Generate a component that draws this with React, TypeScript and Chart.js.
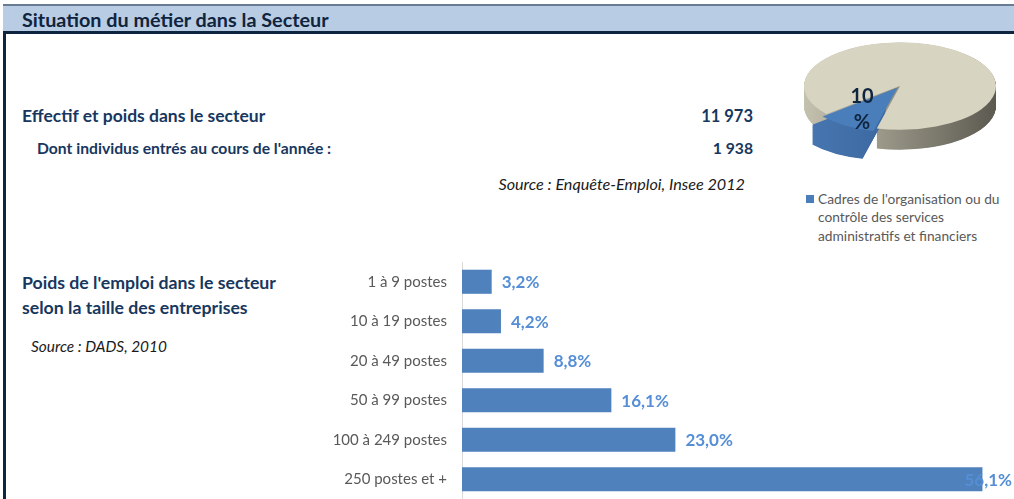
import React, { useEffect, useRef } from "react";
import { Chart, registerables } from "chart.js";

Chart.register(...registerables);

// ---- Data ----
const TITLE = "Situation du métier dans la Secteur";
const EFFECTIF_LABEL = "Effectif et poids dans le secteur";
const EFFECTIF_VALUE = "11 973";
const ENTRANTS_LABEL = "Dont individus entrés au cours de l'année :";
const ENTRANTS_VALUE = "1 938";
const SOURCE_EFFECTIF = "Source : Enquête-Emploi, Insee 2012";

const PIE_LABELS = [
  "Cadres de l'organisation ou du contrôle des services administratifs et financiers",
  "Autres métiers du secteur",
];
const PIE_VALUES = [10, 90];

const BAR_TITLE_LINES = ["Poids de l'emploi dans le secteur", "selon la taille des entreprises"];
const SOURCE_BAR = "Source : DADS, 2010";
const SIZE_CATEGORIES = [
  "1 à 9 postes",
  "10 à 19 postes",
  "20 à 49 postes",
  "50 à 99 postes",
  "100 à 249 postes",
  "250 postes et +",
];
const SIZE_SHARES = [3.2, 4.2, 8.8, 16.1, 23.0, 56.1];

// ---- Styles ----
const FONT = 'Lato, "Open Sans", sans-serif';
const NAVY = "#17375E";
const PIE_TILT = 0.455;
const PIE_DEPTH = 20;

const fmtPct = (v: number) => v.toFixed(1).replace(".", ",") + "%";

const pie3d = {
  id: "pie3d",
  beforeDatasetsDraw(chart: any) {
    const ctx = chart.ctx as CanvasRenderingContext2D;
    const meta = chart.getDatasetMeta(0);
    const first = meta.data[0];
    const cy = first.y;
    ctx.save();
    ctx.translate(0, cy);
    ctx.scale(1, PIE_TILT);
    ctx.translate(0, -cy);
    const depth = PIE_DEPTH / PIE_TILT;
    const sideColors = [
      ["#4A79B4", "#2E588C"],
      ["#C4C1AF", "#5C5A50"],
    ];
    const order = meta.data.map((_: any, i: number) => i).reverse();
    for (const i of order) {
      const arc = meta.data[i];
      const { x, y, startAngle, endAngle, outerRadius, circumference } = arc.getProps([
        "x",
        "y",
        "startAngle",
        "endAngle",
        "outerRadius",
        "circumference",
      ]);
      const off = arc.options.offset || 0;
      const half = (startAngle + endAngle) / 2;
      const fix = 1 - Math.sin(Math.min(Math.PI, circumference || 0));
      const total = off + off * fix;
      const ox = x + Math.cos(half) * total;
      const oy = y + Math.sin(half) * total;
      const g = ctx.createLinearGradient(ox - outerRadius, 0, ox + outerRadius, 0);
      g.addColorStop(0, sideColors[i][0]);
      g.addColorStop(1, sideColors[i][1]);
      ctx.fillStyle = g;
      for (let d = depth; d > 0; d -= 1) {
        ctx.beginPath();
        ctx.moveTo(ox, oy + d);
        ctx.arc(ox, oy + d, outerRadius, startAngle, endAngle);
        ctx.closePath();
        ctx.fill();
      }
    }
  },
  afterDatasetsDraw(chart: any) {
    chart.ctx.restore();
  },
};

const barLabels = {
  id: "barLabels",
  afterDatasetsDraw(chart: any) {
    const ctx = chart.ctx as CanvasRenderingContext2D;
    const meta = chart.getDatasetMeta(0);
    ctx.save();
    ctx.font = `bold 17px ${FONT}`;
    ctx.fillStyle = "#558ED5";
    ctx.textBaseline = "middle";
    ctx.textAlign = "left";
    meta.data.forEach((bar: any, i: number) => {
      const txt = fmtPct(SIZE_SHARES[i]);
      const w = ctx.measureText(txt).width;
      let x = bar.x + 10;
      if (x + w > chart.width - 2) x = chart.width - 2 - w;
      ctx.fillText(txt, x, bar.y + 1);
    });
    ctx.restore();
  },
};

const abs = (left: number, top: number, extra: React.CSSProperties = {}): React.CSSProperties => ({
  position: "absolute",
  left,
  top,
  whiteSpace: "nowrap",
  fontFamily: FONT,
  ...extra,
});

export default function App() {
  const pieRef = useRef<HTMLCanvasElement>(null);
  const barRef = useRef<HTMLCanvasElement>(null);

  useEffect(() => {
    const pie = new Chart(pieRef.current!, {
      type: "pie",
      data: {
        labels: PIE_LABELS,
        datasets: [
          {
            data: PIE_VALUES,
            backgroundColor: ["#4A7EBB", "#D7D4C2"],
            borderWidth: 0,
            offset: [19, 0],
            clip: false,
          } as any,
        ],
      },
      options: {
        responsive: false,
        animation: false,
        events: [],
        rotation: 194,
        radius: 96,
        layout: { padding: { bottom: 36 } },
        plugins: { legend: { display: false }, tooltip: { enabled: false } },
      } as any,
      plugins: [pie3d],
    });

    const bar = new Chart(barRef.current!, {
      type: "bar",
      data: {
        labels: SIZE_CATEGORIES,
        datasets: [
          {
            data: SIZE_SHARES,
            backgroundColor: "#4F81BD",
            borderWidth: 0,
            categoryPercentage: 1,
            barPercentage: 0.61,
          },
        ],
      },
      options: {
        indexAxis: "y",
        responsive: false,
        animation: false,
        events: [],
        layout: { padding: 0, autoPadding: false },
        scales: {
          x: { display: false, min: 0, max: 59.5 },
          y: {
            grid: { display: false, drawTicks: false },
            border: { display: true, color: "#D9D9D9", width: 1 },
            ticks: { color: "#595959", font: { family: FONT, size: 15 }, padding: 15 },
            afterFit: (s: any) => {
              s.width = 162;
              s.paddingTop = 0;
              s.paddingBottom = 0;
            },
          },
        },
        plugins: { legend: { display: false }, tooltip: { enabled: false } },
      } as any,
      plugins: [barLabels],
    });

    return () => {
      pie.destroy();
      bar.destroy();
    };
  }, []);

  return (
    <div
      style={{
        position: "absolute",
        left: 0,
        top: 0,
        width: 1014,
        height: 499,
        overflow: "hidden",
        background: "#FFFFFF",
        fontFamily: FONT,
      }}
    >
      {/* frame */}
      <div style={{ position: "absolute", left: 3, top: 4, width: 3, height: 495, background: "#0F243E" }} />
      <div
        style={{
          position: "absolute",
          left: 3,
          top: 4,
          width: 1011,
          height: 25,
          background: "#B8CCE4",
          borderTop: "2px solid #6A7C94",
          borderBottom: "3px solid #0F243E",
        }}
      />
      <div style={abs(22, 7, { fontSize: 19.8, fontWeight: 700, lineHeight: "24px", color: "#0F243E" })}>{TITLE}</div>

      {/* effectif block */}
      <div style={abs(22, 104, { fontSize: 17.5, fontWeight: 700, lineHeight: "24px", color: NAVY })}>{EFFECTIF_LABEL}</div>
      <div style={abs(600, 104, { width: 153, textAlign: "right", fontSize: 16.5, fontWeight: 700, lineHeight: "24px", color: NAVY })}>
        {EFFECTIF_VALUE}
      </div>
      <div style={abs(37, 136, { fontSize: 15.7, fontWeight: 700, lineHeight: "24px", color: NAVY })}>{ENTRANTS_LABEL}</div>
      <div style={abs(600, 136, { width: 153, textAlign: "right", fontSize: 15.7, fontWeight: 700, lineHeight: "24px", color: NAVY })}>
        {ENTRANTS_VALUE}
      </div>
      <div style={abs(395, 172, { width: 350, textAlign: "right", fontSize: 16.2, fontStyle: "italic", lineHeight: "24px", color: "#1A1A1A" })}>
        {SOURCE_EFFECTIF}
      </div>

      {/* pie */}
      <canvas ref={pieRef} width={240} height={140} style={{ position: "absolute", left: 780, top: 34 }} />
      <div
        style={abs(842, 82, {
          width: 40,
          textAlign: "center",
          whiteSpace: "normal",
          fontSize: 20,
          fontWeight: 700,
          lineHeight: "26px",
          color: "#0F243E",
        })}
      >
        {PIE_VALUES[0]} %
      </div>
      <div style={{ position: "absolute", left: 806, top: 195, width: 8, height: 8, background: "#4A7EBB" }} />
      <div
        style={abs(818, 189.75, {
          width: 192,
          whiteSpace: "normal",
          fontSize: 13.75,
          lineHeight: "18.5px",
          color: "#595959",
        })}
      >
        {PIE_LABELS[0]}
      </div>

      {/* bar block */}
      <div style={abs(22, 269.5, { fontSize: 17.7, fontWeight: 700, lineHeight: "25px", color: NAVY })}>
        {BAR_TITLE_LINES[0]}
        <br />
        {BAR_TITLE_LINES[1]}
      </div>
      <div style={abs(31, 335, { fontSize: 15.4, fontStyle: "italic", lineHeight: "22px", color: "#1A1A1A" })}>{SOURCE_BAR}</div>
      <canvas ref={barRef} width={714} height={237} style={{ position: "absolute", left: 300, top: 262 }} />
    </div>
  );
}
